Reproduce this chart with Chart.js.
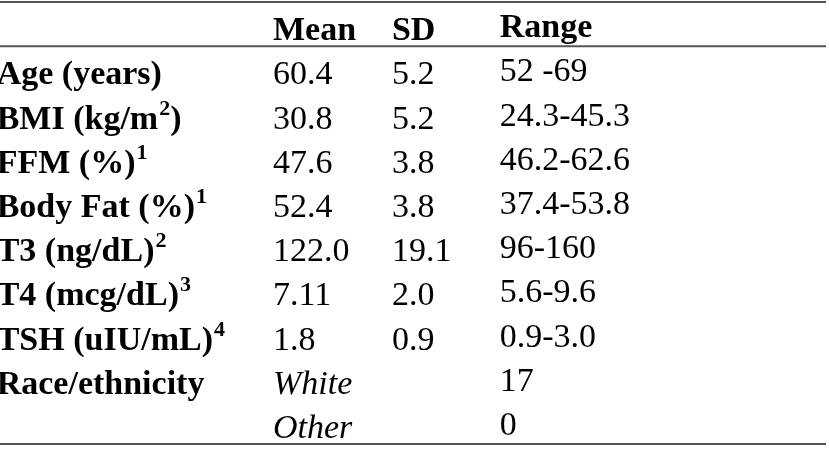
<!DOCTYPE html>
<html>
<head>
<meta charset="utf-8">
<script src="https://cdn.jsdelivr.net/npm/chart.js@4.4.0/dist/chart.umd.min.js"></script>
<style>
  body { margin: 0; background: #fff; }
</style>
</head>
<body>
<canvas id="myChart" width="829" height="450"></canvas>
<script>
// dades de la taula ('^x' = superindex)
const headers = ['', 'Mean', 'SD', 'Range'];
const rowLabels = ['Age (years)', 'BMI (kg/m^2)', 'FFM (%)^1', 'Body Fat (%)^1', 'T3 (ng/dL)^2',
    'T4 (mcg/dL)^3', 'TSH (uIU/mL)^4', 'Race/ethnicity', ''];
const means = ['60.4', '30.8', '47.6', '52.4', '122.0', '7.11', '1.8', 'White', 'Other'];
const sds = ['5.2', '5.2', '3.8', '3.8', '19.1', '2.0', '0.9', '', ''];
const ranges = ['52 -69', '24.3-45.3', '46.2-62.6', '37.4-53.8', '96-160', '5.6-9.6', '0.9-3.0', '17', '0'];

const FONT = '"Liberation Serif", "Times New Roman", serif';
const SIZE = 34;
const SUP = 22;

// escriu un text amb superindexos
const drawRich = (ctx, text, x, y, weight, style) => {
    let cx = x;
    text.split(/(\^\w)/).forEach((part) => {
        if (!part) return;
        if (part[0] === '^') {
            ctx.font = `${style} ${weight} ${SUP}px ${FONT}`;
            ctx.fillText(part.slice(1), cx + 1, y - 14);
            cx += ctx.measureText(part.slice(1)).width + 1;
        } else {
            ctx.font = `${style} ${weight} ${SIZE}px ${FONT}`;
            ctx.fillText(part, cx, y);
            cx += ctx.measureText(part).width;
        }
    });
};

const tablePlugin = {
    id: 'tableText',
    afterDatasetsDraw(chart) {
        const ctx = chart.ctx;
        const { top, bottom, left, right } = chart.chartArea;
        const y = chart.scales.y;
        ctx.save();
        // linies horitzontals
        ctx.strokeStyle = '#555';
        ctx.lineWidth = 2;
        const mid = (y.getPixelForValue(0) + y.getPixelForValue(1)) / 2;
        [top, mid, bottom].forEach((py) => {
            ctx.beginPath();
            ctx.moveTo(left, py);
            ctx.lineTo(right, py);
            ctx.stroke();
        });
        // text de cada cel·la
        ctx.fillStyle = '#000';
        ctx.textBaseline = 'alphabetic';
        chart.data.datasets.forEach((ds, di) => {
            const meta = chart.getDatasetMeta(di);
            meta.data.forEach((pt, i) => {
                const weight = (i === 0 || ds.boldCol) ? 'bold' : 'normal';
                const style = ds.italicRows.includes(i) ? 'italic' : 'normal';
                drawRich(ctx, ds.texts[i], pt.x, pt.y + 16 + ds.lift, weight, style);
            });
        });
        ctx.restore();
    }
};

// posicio horitzontal de cada columna (% de l'amplada)
const colAt = [-0.4, 33.05, 47.45, 60.5];
const columns = [rowLabels, means, sds, ranges];

const datasets = columns.map((col, c) => {
    const texts = [headers[c], ...col];
    return {
        data: texts.map((t, i) => ({ x: colAt[c], y: i })),
        texts: texts,
        boldCol: c === 0,
        italicRows: c === 1 ? [8, 9] : [],
        lift: c === 3 ? -3 : 0,
        pointRadius: 0,
        showLine: false
    };
});

new Chart(document.getElementById('myChart'), {
    type: 'scatter',
    data: { datasets: datasets },
    options: {
        responsive: false,
        animation: false,
        layout: { padding: { top: 2, bottom: 6, left: 0, right: 3 } },
        plugins: { legend: { display: false }, tooltip: { enabled: false } },
        scales: {
            x: { type: 'linear', min: 0, max: 100, display: false },
            y: { type: 'linear', min: -0.5, max: 9.5, reverse: true, display: false }
        }
    },
    plugins: [tablePlugin]
});
</script>
</body>
</html>
